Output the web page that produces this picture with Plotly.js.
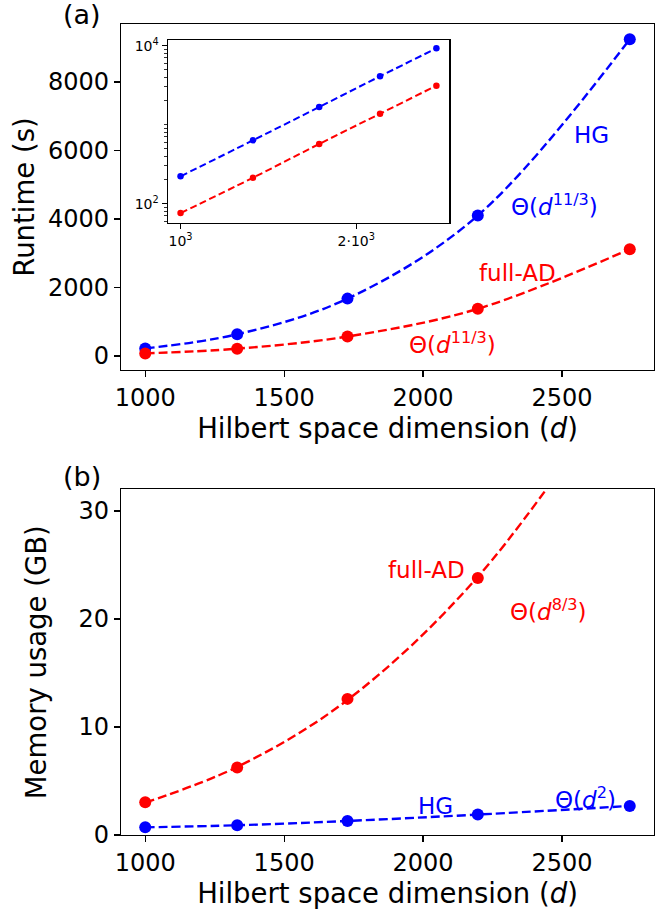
<!DOCTYPE html>
<html>
<head>
<meta charset="utf-8">
<script src="https://cdn.plot.ly/plotly-3.0.1.min.js"></script>
<style>html,body{margin:0;padding:0;background:#fff;}#chart{width:669px;height:909px;}</style>
</head>
<body>
<div id="chart"></div>
<script>
// Hilbert space dimensions d
const dims = [1000, 1331, 1728, 2197, 2744];
// (a) runtime in seconds
const runtimeHG = [222, 634, 1675, 4100, 9250];
const runtimeFullAD = [76, 213, 570, 1377, 3119];
// (b) memory usage in GB
const memHG = [0.71, 0.90, 1.30, 1.89, 2.69];
const memFullADDims = [1000, 1331, 1728, 2197];
const memFullAD = [3.03, 6.25, 12.6, 23.8];
const memFullADFit = [3.0, 6.3, 12.5, 23.9, 43.1];
// tick labels
const xTicks = [1000, 1500, 2000, 2500];
const runtimeTicks = [0, 2000, 4000, 6000, 8000];
const memTicks = [0, 10, 20, 30];
const insetXTicks = [1000, 2000];
const insetXText = ['10<sup>3</sup>', '2·10<sup>3</sup>'];
const insetYTicks = [100, 10000];
const insetYText = ['10<sup>2</sup>', '10<sup>4</sup>'];
const insetYMinor = [60, 70, 80, 90, 200, 300, 400, 500, 600, 700, 800, 900, 1000, 2000, 3000, 4000, 5000, 6000, 7000, 8000, 9000];

const BLUE = '#0000ff', RED = '#ff0000';
const FONT = 'DejaVu Sans, sans-serif';

function series(x, y, color, xa, ya, msize, lw, mode, dash) {
  return {x: x, y: y, xaxis: xa, yaxis: ya, type: 'scatter', mode: mode,
    line: {color: color, width: lw, dash: dash, shape: 'spline', smoothing: 1},
    marker: {color: color, size: msize}, showlegend: false, hoverinfo: 'skip', cliponaxis: true};
}

const mainDash = '9px,4px', insetDash = '7px,3.5px';
const data = [
  series(dims, runtimeHG, BLUE, 'x', 'y', 12, 2.4, 'lines+markers', mainDash),
  series(dims, runtimeFullAD, RED, 'x', 'y', 12, 2.4, 'lines+markers', mainDash),
  series(dims, runtimeHG, BLUE, 'x2', 'y2', 6.5, 2, 'lines+markers', insetDash),
  series(dims, runtimeFullAD, RED, 'x2', 'y2', 6.5, 2, 'lines+markers', insetDash),
  series(dims, memHG, BLUE, 'x3', 'y3', 12, 2.4, 'lines+markers', mainDash),
  series(dims, memFullADFit, RED, 'x3', 'y3', 12, 2.4, 'lines', mainDash),
  series(memFullADDims, memFullAD, RED, 'x3', 'y3', 12, 2.4, 'markers', mainDash)
];

const W = 669, H = 909;
const px = v => v / W;
const py = v => 1 - v / H;
const TITLE = {family: FONT, size: 27.5, color: '#000'};

const axBase = {showline: true, mirror: true, linecolor: '#000', linewidth: 1.2,
  ticks: 'outside', ticklen: 6, tickwidth: 1.2, tickcolor: '#000',
  showgrid: false, zeroline: false, tickfont: {family: FONT, size: 24, color: '#000'}, automargin: false};

const layout = {
  width: W, height: H,
  margin: {l: 0, r: 0, t: 0, b: 0},
  paper_bgcolor: '#fff', plot_bgcolor: '#fff',
  font: {family: FONT, color: '#000'},
  xaxis: Object.assign({}, axBase, {domain: [px(121), px(654)], range: [912.8, 2831.2], anchor: 'y',
    tickmode: 'array', tickvals: xTicks,
    title: {text: 'Hilbert space dimension (<i>d</i>)', font: TITLE, standoff: 3}}),
  yaxis: Object.assign({}, axBase, {domain: [py(370), py(24)], range: [-409, 9693], anchor: 'x',
    tickmode: 'array', tickvals: runtimeTicks,
    title: {text: 'Runtime (s)', font: TITLE, standoff: 5}}),
  xaxis2: Object.assign({}, axBase, {domain: [px(167.7), px(449.3)], type: 'log', range: [2.978, 3.4605], anchor: 'y2',
    tickmode: 'array', tickvals: insetXTicks, ticktext: insetXText, ticklen: 5, tickwidth: 1,
    linewidth: 1.2, tickfont: {family: FONT, size: 14, color: '#000'}}),
  yaxis2: Object.assign({}, axBase, {domain: [py(222.7), py(40)], type: 'log', range: [1.759, 4.072], anchor: 'x2',
    tickmode: 'array', tickvals: insetYTicks, ticktext: insetYText, ticklen: 5, tickwidth: 1,
    linewidth: 1.2, tickfont: {family: FONT, size: 14, color: '#000'},
    minor: {tickmode: 'array', tickvals: insetYMinor, ticks: 'outside', ticklen: 3, tickwidth: 0.8, tickcolor: '#000', showgrid: false}}),
  xaxis3: Object.assign({}, axBase, {domain: [px(121), px(654)], range: [912.8, 2831.2], anchor: 'y3',
    tickmode: 'array', tickvals: xTicks,
    title: {text: 'Hilbert space dimension (<i>d</i>)', font: TITLE, standoff: 3}}),
  yaxis3: Object.assign({}, axBase, {domain: [py(835), py(489.3)], range: [0, 32], anchor: 'x3',
    tickmode: 'array', tickvals: memTicks,
    title: {text: 'Memory usage (GB)', font: TITLE, standoff: 23}}),
  annotations: [
    {xref: 'paper', yref: 'paper', x: px(82), y: py(14), text: '(a)', showarrow: false, xanchor: 'center', yanchor: 'middle', font: {family: FONT, size: 27, color: '#000'}},
    {xref: 'paper', yref: 'paper', x: px(82), y: py(476), text: '(b)', showarrow: false, xanchor: 'center', yanchor: 'middle', font: {family: FONT, size: 27, color: '#000'}},
    {xref: 'x', yref: 'y', x: 2607, y: 6453, text: 'HG', showarrow: false, font: {family: FONT, size: 23, color: BLUE}},
    {xref: 'x', yref: 'y', x: 2473, y: 4409, text: 'Θ(<i>d</i><sup>11/3</sup>)', showarrow: false, font: {family: FONT, size: 23, color: BLUE}},
    {xref: 'x', yref: 'y', x: 2340, y: 2409, text: 'full-AD', showarrow: false, font: {family: FONT, size: 23, color: RED}},
    {xref: 'x', yref: 'y', x: 2107, y: 380, text: 'Θ(<i>d</i><sup>11/3</sup>)', showarrow: false, font: {family: FONT, size: 23, color: RED}},
    {xref: 'x3', yref: 'y3', x: 2012, y: 24.56, text: 'full-AD', showarrow: false, font: {family: FONT, size: 23, color: RED}},
    {xref: 'x3', yref: 'y3', x: 2452, y: 20.85, text: 'Θ(<i>d</i><sup>8/3</sup>)', showarrow: false, font: {family: FONT, size: 23, color: RED}},
    {xref: 'x3', yref: 'y3', x: 2044, y: 2.66, text: 'HG', showarrow: false, font: {family: FONT, size: 23, color: BLUE}},
    {xref: 'x3', yref: 'y3', x: 2585, y: 3.4, text: 'Θ(<i>d</i><sup>2</sup>)', showarrow: false, font: {family: FONT, size: 23, color: BLUE}}
  ]
};

Plotly.newPlot('chart', data, layout, {staticPlot: true, displayModeBar: false});
</script>
</body>
</html>
